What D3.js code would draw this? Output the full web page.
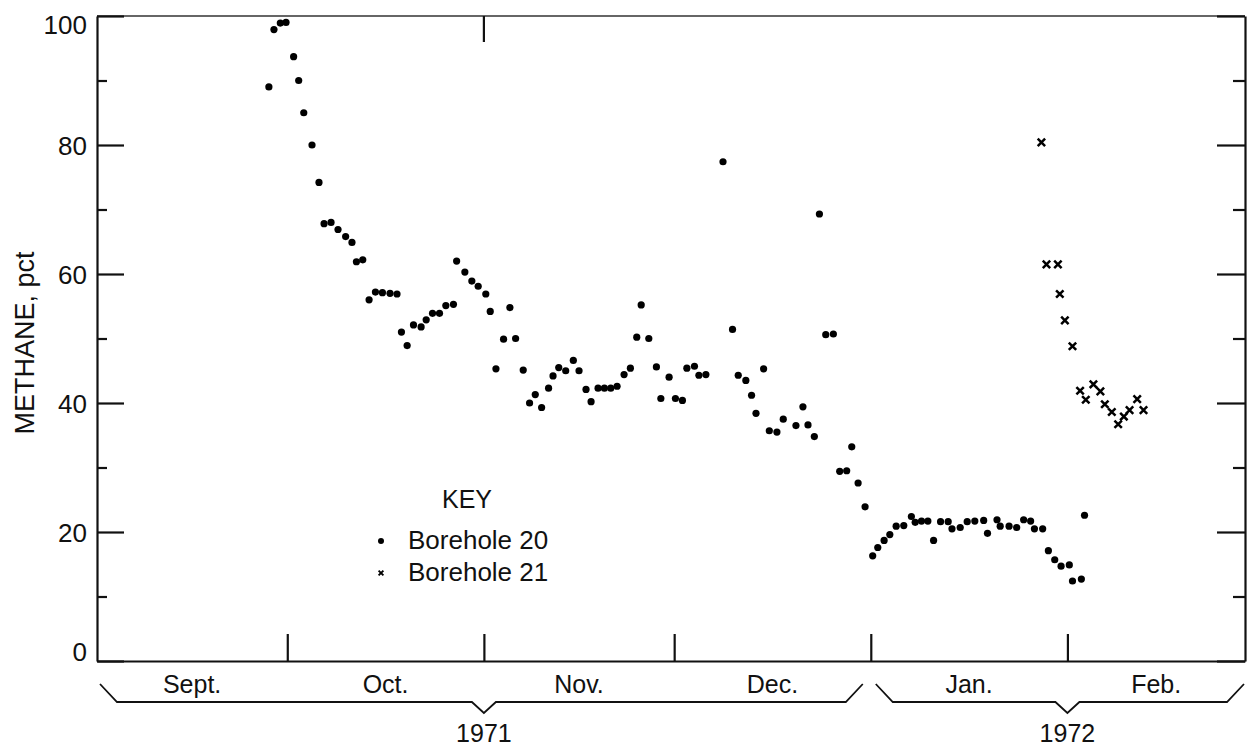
<!DOCTYPE html>
<html>
<head>
<meta charset="utf-8">
<script src="https://cdn.jsdelivr.net/npm/d3@7"></script>
<style>
  body { margin: 0; background: #fff; }
  svg { display: block; font-family: "Liberation Sans", Arial, sans-serif; }
  .axis path, .axis line { stroke: #111; stroke-width: 2.2; }
  .axis text { font-size: 26px; fill: #111; font-family: "Liberation Sans", Arial, sans-serif; }
</style>
</head>
<body>
<svg width="1254" height="746"></svg>
<script>
// x values are days since 1 Sept 1971
const bh20Days = [27.1, 27.9, 28.9, 29.8, 31.0, 31.8, 32.6, 33.9, 35.0, 35.8, 36.9, 38.0, 39.2, 40.2, 40.9, 41.9,
  42.9, 43.9, 45.0, 46.2, 47.3, 48.0, 48.9, 49.9, 51.1, 51.9, 52.9, 54.0, 55.0, 56.2, 56.7, 58.0, 59.1, 60.1,
  61.3, 62.0, 62.9, 64.1, 65.1, 66.0, 67.2, 68.2, 69.1, 70.1, 71.2, 71.9, 72.8, 73.9, 75.1, 76.0, 77.1, 77.9,
  79.0, 80.0, 81.0, 82.0, 83.1, 84.1, 85.1, 85.8, 87.0, 88.2, 88.9, 90.2, 91.2, 92.3, 93.0, 94.2, 94.9, 96.0,
  98.7, 100.2, 101.1, 102.3, 103.2, 103.9, 105.1, 106.0, 107.2, 108.2, 110.2, 111.3, 112.1, 113.1, 113.9, 114.9,
  116.1, 117.1, 118.2, 119.0, 120.0, 121.1, 122.3, 123.1, 124.1, 125.0, 126.0, 127.2, 128.4, 129.0, 130.0, 131.0,
  131.9, 133.0, 134.2, 134.8, 136.1, 137.2, 138.4, 139.8, 140.4, 141.9, 142.4, 143.8, 145.0, 146.1, 147.2, 147.8,
  149.1, 150.0, 151.0, 152.0, 153.3, 153.8, 155.2, 155.7];
const bh20Methane = [89.0, 97.9, 98.9, 99.0, 93.7, 90.0, 85.0, 80.0, 74.2, 67.8, 68.0, 66.9, 65.8, 64.9, 61.9, 62.2,
  56.0, 57.2, 57.1, 57.0, 56.9, 51.0, 48.9, 52.1, 51.8, 52.9, 53.9, 53.9, 55.1, 55.3, 62.0, 60.3, 58.9, 58.1,
  56.9, 54.2, 45.3, 49.9, 54.8, 50.0, 45.1, 40.0, 41.3, 39.3, 42.3, 44.2, 45.5, 45.0, 46.6, 45.0, 42.1, 40.2,
  42.3, 42.3, 42.3, 42.6, 44.4, 45.4, 50.2, 55.2, 50.0, 45.6, 40.7, 44.0, 40.7, 40.4, 45.4, 45.7, 44.3, 44.4,
  77.4, 51.4, 44.3, 43.5, 41.2, 38.4, 45.3, 35.7, 35.5, 37.5, 36.5, 39.4, 36.6, 34.8, 69.3, 50.6,
  50.7, 29.4, 29.5, 33.2, 27.6, 23.9, 16.3, 17.6, 18.7, 19.6, 20.9, 21.0, 22.4, 21.5, 21.7, 21.7,
  18.7, 21.6, 21.6, 20.5, 20.7, 21.6, 21.7, 21.8, 19.8, 21.9, 20.9, 20.9, 20.7, 21.9, 21.7, 20.5,
  20.5, 17.1, 15.7, 14.7, 14.9, 12.4, 12.7, 22.6];
const bh21Days = [148.9, 149.7, 151.5, 151.8, 152.6, 153.8, 155.0, 155.9, 157.1, 158.2, 158.9, 160.0, 161.0,
  161.9, 162.8, 164.0, 165.0];
const bh21Methane = [80.4, 61.5, 61.5, 56.9, 52.8, 48.8, 41.9, 40.5, 42.9, 41.8, 39.8, 38.6, 36.7,
  37.9, 38.9, 40.6, 38.9];
const months = ["Sept.", "Oct.", "Nov.", "Dec.", "Jan.", "Feb."];
const years = ["1971", "1972"];
const yMajor = [0, 20, 40, 60, 80, 100];
const yMinor = [10, 30, 50, 70, 90];

const svg = d3.select("svg");
const start = new Date(Date.UTC(1971, 8, 1));
const end = new Date(Date.UTC(1972, 1, 29));
const toDate = d => new Date(start.getTime() + d * 864e5);

const xScale = d3.scaleUtc().domain([start, end]).range([97, 1245]);
const yScale = d3.scaleLinear().domain([0, 100]).range([661, 16]);
const monthStarts = d3.utcMonth.range(start, end);
const monthBounds = monthStarts.slice(1);

const bh20 = bh20Days.map((d, i) => ({ date: toDate(d), value: bh20Methane[i] }));
const bh21 = bh21Days.map((d, i) => ({ date: toDate(d), value: bh21Methane[i] }));

// frame top line
svg.append("line")
  .attr("x1", xScale.range()[0]).attr("x2", xScale.range()[1])
  .attr("y1", yScale(100)).attr("y2", yScale(100))
  .attr("stroke", "#333").attr("stroke-width", 1.5);
svg.append("line")
  .attr("x1", xScale(monthBounds[1])).attr("x2", xScale(monthBounds[1]))
  .attr("y1", yScale(100)).attr("y2", yScale(100) + 26)
  .attr("stroke", "#111").attr("stroke-width", 2.2);

const xAxisG = svg.append("g").attr("class", "axis")
  .attr("transform", `translate(0,${yScale(0)})`)
  .call(d3.axisBottom(xScale).tickValues(monthBounds).tickSize(-27).tickSizeOuter(0).tickFormat(""));

const leftMajor = svg.append("g").attr("class", "axis")
  .attr("transform", `translate(${xScale.range()[0]},0)`)
  .call(d3.axisLeft(yScale).tickValues(yMajor).tickSize(-27).tickSizeOuter(0).tickPadding(10));
leftMajor.selectAll(".tick text")
  .attr("dy", d => d === 100 ? "0.68em" : d === 0 ? "-0.02em" : "0.36em");
svg.append("g").attr("class", "axis")
  .attr("transform", `translate(${xScale.range()[0]},0)`)
  .call(d3.axisLeft(yScale).tickValues(yMinor).tickSize(-10).tickSizeOuter(0).tickFormat(""))
  .select(".domain").remove();

svg.append("g").attr("class", "axis")
  .attr("transform", `translate(${xScale.range()[1]},0)`)
  .call(d3.axisRight(yScale).tickValues(yMajor).tickSize(-28).tickSizeOuter(0).tickFormat(""));
svg.append("g").attr("class", "axis")
  .attr("transform", `translate(${xScale.range()[1]},0)`)
  .call(d3.axisRight(yScale).tickValues(yMinor).tickSize(-12).tickSizeOuter(0).tickFormat(""))
  .select(".domain").remove();

svg.append("text")
  .attr("transform", `translate(34,${343}) rotate(-90)`)
  .attr("text-anchor", "middle")
  .style("font-size", "27px")
  .attr("fill", "#111")
  .text("METHANE, pct");

// month labels and year brackets
svg.selectAll("text.month")
  .data(monthStarts)
  .enter()
  .append("text")
  .attr("class", "month")
  .attr("x", d => (xScale(d) + xScale(d3.utcMonth.offset(d, 1) > end ? end : d3.utcMonth.offset(d, 1))) / 2)
  .attr("y", 693)
  .attr("text-anchor", "middle")
  .style("font-size", "25px")
  .attr("fill", "#111")
  .text((d, i) => months[i]);

const bracket = (x0, x1, xm) => {
  const top = 684, bot = 702, tip = 713;
  return d3.line()([[x0, top], [x0 + 17, bot], [xm - 12, bot], [xm, tip], [xm + 12, bot], [x1 - 17, bot], [x1, top]]);
};
const jan1 = monthStarts[4];
const yearSpans = [
  { x0: xScale(start) + 3, x1: xScale(jan1) - 8, mid: xScale(monthStarts[2]) },
  { x0: xScale(jan1) + 5, x1: xScale(end) - 1, mid: xScale(monthStarts[5]) }
];
svg.selectAll("path.bracket")
  .data(yearSpans)
  .enter()
  .append("path")
  .attr("class", "bracket")
  .attr("d", d => bracket(d.x0, d.x1, d.mid))
  .attr("fill", "none")
  .attr("stroke", "#111")
  .attr("stroke-width", 1.8);
svg.selectAll("text.year")
  .data(yearSpans)
  .enter()
  .append("text")
  .attr("class", "year")
  .attr("x", d => d.mid)
  .attr("y", 742)
  .attr("text-anchor", "middle")
  .style("font-size", "25px")
  .attr("fill", "#111")
  .text((d, i) => years[i]);

// data
svg.append("g")
  .selectAll("circle")
  .data(bh20)
  .enter()
  .append("circle")
  .attr("cx", d => xScale(d.date))
  .attr("cy", d => yScale(d.value))
  .attr("r", 3.6)
  .attr("fill", "#000");

const crossPath = s => `M${-s},${-s}L${s},${s}M${s},${-s}L${-s},${s}`;
svg.append("g")
  .selectAll("path")
  .data(bh21)
  .enter()
  .append("path")
  .attr("transform", d => `translate(${xScale(d.date)},${yScale(d.value)})`)
  .attr("d", crossPath(3.7))
  .attr("stroke", "#000")
  .attr("stroke-width", 2.5)
  .attr("fill", "none");

// key
const keyG = svg.append("g").attr("transform", "translate(381,0)");
keyG.append("text")
  .attr("x", 86).attr("y", 508)
  .attr("text-anchor", "middle")
  .style("font-size", "25px")
  .attr("fill", "#111")
  .text("KEY");
keyG.append("circle").attr("cx", 0).attr("cy", 541).attr("r", 3).attr("fill", "#000");
keyG.append("path")
  .attr("transform", "translate(0,573)")
  .attr("d", crossPath(2.4))
  .attr("stroke", "#000").attr("stroke-width", 1.9).attr("fill", "none");
keyG.selectAll("text.item")
  .data(["Borehole 20", "Borehole 21"])
  .enter()
  .append("text")
  .attr("class", "item")
  .attr("x", 27)
  .attr("y", (d, i) => 549 + i * 32)
  .style("font-size", "26px")
  .attr("fill", "#111")
  .text(d => d);
</script>
</body>
</html>
